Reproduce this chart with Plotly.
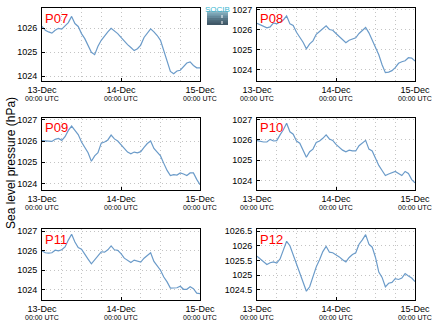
import pandas as pd
import plotly.graph_objects as go

# ---------------- data ----------------
start = "2013-12-13 00:00"
hours = list(range(49))
day_ticks = ["2013-12-13", "2013-12-14", "2013-12-15"]
day_labels = ["13-Dec", "14-Dec", "15-Dec"]
sub_label = "00:00 UTC"

P07 = [1026.08, 1025.92, 1025.85, 1025.80, 1025.92, 1026.00, 1025.97, 1026.12, 1026.24, 1026.50,
       1026.20, 1026.08, 1025.78, 1025.57, 1025.30, 1025.00, 1024.90, 1025.25, 1025.50, 1025.70,
       1025.85, 1026.00, 1025.90, 1025.78, 1025.62, 1025.45, 1025.32, 1025.20, 1025.07, 1025.15,
       1025.30, 1025.62, 1025.82, 1025.98, 1025.85, 1025.70, 1025.50, 1025.05, 1024.55, 1024.20,
       1024.10, 1024.22, 1024.25, 1024.42, 1024.55, 1024.60, 1024.45, 1024.35, 1024.35]
P08 = [1026.33, 1026.26, 1026.20, 1026.10, 1026.15, 1026.35, 1026.30, 1026.40, 1026.50, 1026.70,
       1026.30, 1026.22, 1025.88, 1025.63, 1025.38, 1025.05, 1025.30, 1025.45, 1025.78, 1025.92,
       1026.05, 1026.20, 1026.02, 1025.98, 1025.82, 1025.65, 1025.50, 1025.35, 1025.48, 1025.55,
       1025.60, 1025.82, 1025.95, 1026.12, 1025.85, 1025.50, 1025.15, 1024.75, 1024.25, 1023.85,
       1023.88, 1023.95, 1024.10, 1024.32, 1024.40, 1024.45, 1024.60, 1024.58, 1024.43]
P09 = [1026.02, 1026.00, 1025.97, 1025.98, 1026.08, 1026.12, 1026.03, 1026.20, 1026.50, 1026.70,
       1026.50, 1026.30, 1025.95, 1025.72, 1025.45, 1025.05, 1025.30, 1025.45, 1025.90, 1025.95,
       1026.05, 1026.28, 1026.10, 1026.00, 1025.82, 1025.62, 1025.48, 1025.40, 1025.48, 1025.44,
       1025.50, 1025.70, 1025.88, 1026.00, 1025.65, 1025.48, 1025.30, 1024.95, 1024.62, 1024.38,
       1024.42, 1024.40, 1024.50, 1024.45, 1024.38, 1024.50, 1024.50, 1024.20, 1023.95]
P10 = [1025.97, 1025.92, 1025.90, 1025.90, 1026.03, 1025.95, 1025.97, 1026.25, 1026.50, 1026.82,
       1026.40, 1026.28, 1025.95, 1025.84, 1025.50, 1025.15, 1025.42, 1025.55, 1025.88, 1025.95,
       1026.08, 1026.25, 1026.05, 1025.98, 1025.78, 1025.62, 1025.50, 1025.42, 1025.50, 1025.46,
       1025.46, 1025.72, 1025.84, 1025.98, 1025.55, 1025.46, 1025.10, 1024.75, 1024.50, 1024.25,
       1024.33, 1024.38, 1024.45, 1024.35, 1024.25, 1024.45, 1024.35, 1024.05, 1023.89]
P11 = [1026.00, 1025.90, 1025.88, 1025.90, 1026.03, 1026.00, 1026.05, 1026.20, 1026.55, 1026.85,
       1026.45, 1026.17, 1026.08, 1025.80, 1025.57, 1025.33, 1025.55, 1025.72, 1025.95, 1025.93,
       1026.05, 1026.25, 1026.05, 1026.02, 1025.85, 1025.62, 1025.50, 1025.40, 1025.52, 1025.45,
       1025.42, 1025.62, 1025.78, 1025.90, 1025.45, 1025.25, 1025.00, 1024.65, 1024.40, 1024.08,
       1024.08, 1024.10, 1024.18, 1024.02, 1024.02, 1024.15, 1024.05, 1023.82, 1023.80]
P12 = [1025.64, 1025.55, 1025.43, 1025.36, 1025.42, 1025.45, 1025.41, 1025.55, 1025.85, 1026.15,
       1026.00, 1025.69, 1025.35, 1025.05, 1024.72, 1024.45, 1024.60, 1024.95, 1025.28, 1025.52,
       1025.80, 1025.98, 1025.78, 1025.76, 1025.70, 1025.62, 1025.52, 1025.45, 1025.60, 1025.70,
       1025.76, 1026.05, 1026.20, 1026.38, 1026.05, 1025.95, 1025.60, 1025.10, 1024.92, 1024.60,
       1024.72, 1024.75, 1024.88, 1024.85, 1024.90, 1025.05, 1024.97, 1024.90, 1024.78]

names = ["P07", "P08", "P09", "P10", "P11", "P12"]
series = [P07, P08, P09, P10, P11, P12]
y_ranges = [[1023.8, 1026.85], [1023.43, 1027.1], [1023.7, 1027.08],
            [1023.54, 1027.08], [1023.47, 1027.12], [1024.15, 1026.57]]
y_dticks = [1, 1, 1, 1, 1, 0.5]
y_formats = ["d", "d", "d", "d", "d", ""]
y_title = "Sea level pressure (hPa)"

# ---------------- layout ----------------
W, H = 434, 327
col_px = [(42, 200), (257, 415)]
row_px = [(8, 81), (118, 190), (229, 300)]

times = pd.date_range(start, periods=len(hours), freq="h")
FONT = "Liberation Sans, Arial, sans-serif"
LINE = "#6b9bc9"
GRID = "#c4c4c4"

fig = go.Figure()

for i, (nm, vals) in enumerate(zip(names, series)):
    r, c = divmod(i, 2)
    xa = "x" if i == 0 else f"x{i+1}"
    ya = "y" if i == 0 else f"y{i+1}"
    fig.add_trace(go.Scatter(x=times, y=vals, mode="lines", line=dict(color=LINE, width=1.2),
                             xaxis=xa, yaxis=ya, showlegend=False))
    x0, x1 = col_px[c]
    t0, t1 = row_px[r]
    xk = "xaxis" if i == 0 else f"xaxis{i+1}"
    yk = "yaxis" if i == 0 else f"yaxis{i+1}"
    fig.layout[xk] = dict(
        domain=[x0 / W, x1 / W], anchor=ya, range=[times[0], times[-1]], automargin=False,
        tickmode="array", tickvals=day_ticks, ticktext=day_labels,
        showline=True, linecolor="black", linewidth=1, mirror=True,
        ticks="inside", ticklen=3, tickcolor="black",
        showgrid=True, gridcolor=GRID, griddash="1px,3px", gridwidth=1,
        minor=dict(dtick=6 * 3600 * 1000, tick0=day_ticks[0], showgrid=True,
                   gridcolor=GRID, griddash="1px,3px", ticks=""),
        tickfont=dict(family=FONT, size=9, color="black"), zeroline=False,
    )
    fig.layout[yk] = dict(
        domain=[1 - t1 / H, 1 - t0 / H], anchor=xa, range=y_ranges[i], automargin=False,
        tickmode="linear", dtick=y_dticks[i], tick0=1024, tickformat=y_formats[i],
        showline=True, linecolor="black", linewidth=1, mirror=True,
        ticks="inside", ticklen=3, tickcolor="black",
        showgrid=True, gridcolor=GRID, griddash="1px,3px", gridwidth=1,
        tickfont=dict(family=FONT, size=9, color="black"), zeroline=False,
        ticklabelstandoff=2,
    )
    fig.add_annotation(text=nm, xref="paper", yref="paper",
                       x=(x0 + 1) / W, y=1 - (t0 + 0.5) / H, xanchor="left", yanchor="top",
                       showarrow=False, font=dict(family=FONT, size=13, color="red"))
    for d in day_ticks:
        fig.add_annotation(text=sub_label, xref=xa, yref="paper", x=d, y=1 - (t1 + 17.5) / H,
                           xanchor="center", yanchor="middle", showarrow=False,
                           font=dict(family=FONT, size=7, color="black"))

fig.add_annotation(text=y_title, xref="paper", yref="paper", x=2 / W, y=1 - 163 / H,
                   textangle=-90, xanchor="left", yanchor="middle", showarrow=False,
                   font=dict(family=FONT, size=12, color="black"))

# logo
grad = ["#8ab4c2", "#77a0b0", "#65899a", "#567686", "#4a6575", "#405867"]
lx0, lx1, ly0, ly1 = 207, 228, 11, 25
step = (ly1 - ly0) / len(grad)
for k, col in enumerate(grad):
    fig.add_shape(type="rect", xref="paper", yref="paper", line_width=0, fillcolor=col,
                  x0=lx0 / W, x1=lx1 / W, y0=1 - ly1 / H, y1=1 - (ly0 + k * step) / H)
fig.add_shape(type="line", xref="paper", yref="paper", x0=222 / W, x1=222 / W,
              y0=1 - 24 / H, y1=1 - 12 / H, line=dict(color="white", width=1, dash="dot"))
fig.add_annotation(text="SOCIB", xref="paper", yref="paper", x=217.5 / W, y=1 - 3 / H,
                   xanchor="center", yanchor="top", showarrow=False,
                   font=dict(family=FONT, size=8, color="#3bb6cf"))

fig.update_layout(width=W, height=H, margin=dict(l=0, r=0, t=0, b=0), template="none",
                  paper_bgcolor="white", plot_bgcolor="white", separators=".")
fig.write_html("out.html")
